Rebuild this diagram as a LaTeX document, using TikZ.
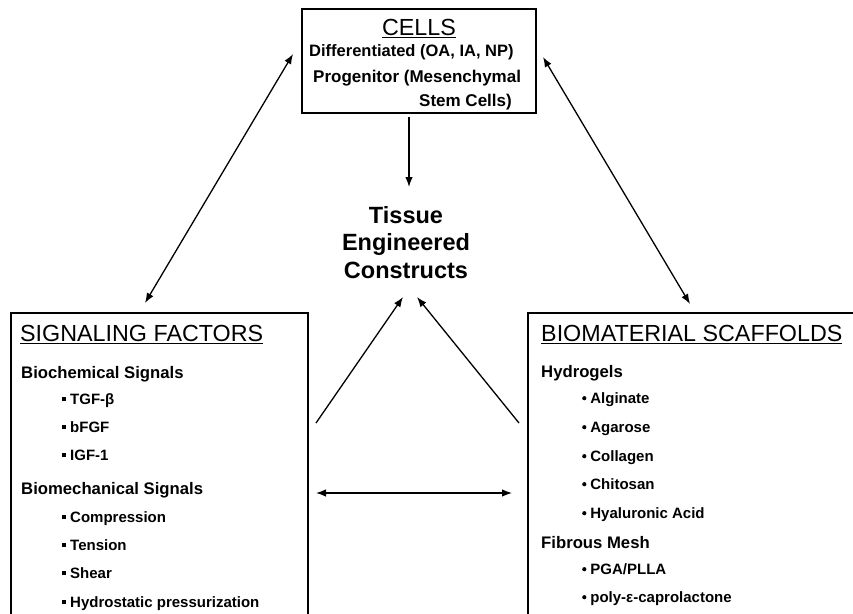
\documentclass[tikz,border=0pt]{standalone}
\usepackage{fontspec}
\setmainfont{Liberation Sans}
\usetikzlibrary{arrows.meta}
\tikzset{
  box/.style={draw=black, line width=1.6pt, inner sep=0pt, fill=none},
  txt/.style={inner sep=0pt, anchor=base west},
  txtc/.style={inner sep=0pt, anchor=base},
  tip/.tip={Latex[length=10pt,width=7.5pt]},
  conn/.style={line width=1.3pt, -tip},
  dconn/.style={line width=1.3pt, tip-tip},
  ttl/.style={font=\fontsize{23.3}{26}\selectfont},
  hd/.style={font=\bfseries\fontsize{16.7}{19}\selectfont},
  itm/.style={font=\bfseries\fontsize{15}{17}\selectfont},
}
\newcommand{\sqb}{\raisebox{3.2pt}{\rule{4pt}{4pt}}\hspace{4pt}}
\newcommand{\rdb}{\raisebox{3.2pt}{\tikz\fill (0,0) circle (2.1pt);}\hspace{4pt}}
\begin{document}
\begin{tikzpicture}[x=1pt,y=-1pt]
\useasboundingbox (0,0) rectangle (853,613);
\clip (0,0) rectangle (853,613);
\fill[white] (0,0) rectangle (853,613);
% boxes
\node[box, minimum width=234pt, minimum height=104pt, anchor=north west] (cells) at (301,8) {};
\node[box, minimum width=297pt, minimum height=340pt, anchor=north west] (sig) at (10,312) {};
\node[box, minimum width=360pt, minimum height=340pt, anchor=north west] (bio) at (527,312) {};
% cells text
\node[txtc, ttl] (cellsT) at (419,35.5) {\underline{CELLS}};
\node[txt, font=\bfseries\fontsize{16.5}{19}\selectfont] (c1) at (309,56) {Differentiated (OA, IA, NP)};
\node[txt, font=\bfseries\fontsize{17}{19}\selectfont] (c2) at (313,82) {Progenitor (Mesenchymal};
\node[txt, font=\bfseries\fontsize{17}{19}\selectfont, anchor=base east] (c3) at (512,106) {Stem Cells)};
% tissue
\node[inner sep=0pt, align=center, font=\bfseries\fontsize{23.5}{27.5}\selectfont, anchor=north] (tissue) at (406,206) {Tissue\\Engineered\\Constructs};
% signaling factors
\node[txt, ttl] (sT) at (20,341.5) {\underline{SIGNALING FACTORS}};
\node[txt, hd] (s1) at (21,378) {Biochemical Signals};
\node[txt, itm] (s2) at (62,404.5) {\sqb TGF-β};
\node[txt, itm] (s3) at (62,432.5) {\sqb bFGF};
\node[txt, itm] (s4) at (62,460.5) {\sqb IGF-1};
\node[txt, hd] (s5) at (21,494) {Biomechanical Signals};
\node[txt, itm] (s6) at (62,522.5) {\sqb Compression};
\node[txt, itm] (s7) at (62,550.5) {\sqb Tension};
\node[txt, itm] (s8) at (62,578.5) {\sqb Shear};
\node[txt, itm] (s9) at (62,607.5) {\sqb Hydrostatic pressurization};
% biomaterial scaffolds
\node[txt, ttl] (bT) at (541,341.5) {\underline{BIOMATERIAL SCAFFOLDS}};
\node[txt, hd] (b1) at (541,377) {Hydrogels};
\node[txt, itm] (b2) at (582,403.5) {\rdb Alginate};
\node[txt, itm] (b3) at (582,432.5) {\rdb Agarose};
\node[txt, itm] (b4) at (582,461.5) {\rdb Collagen};
\node[txt, itm] (b5) at (582,489.5) {\rdb Chitosan};
\node[txt, itm] (b6) at (582,518.5) {\rdb Hyaluronic Acid};
\node[txt, hd] (b7) at (541,548) {Fibrous Mesh};
\node[txt, itm] (b8) at (582,574.5) {\rdb PGA/PLLA};
\node[txt, itm] (b9) at (582,602.5) {\rdb poly-ε-caprolactone};
% connector end points
\coordinate (lA) at (293,54);
\coordinate (lB) at (145,303);
\coordinate (rA) at (543,57);
\coordinate (rB) at (690,304);
\coordinate (vA) at (409,117);
\coordinate (vB) at (409,187);
\coordinate (blA) at (316,423);
\coordinate (blB) at (403,297);
\coordinate (brA) at (519,423);
\coordinate (brB) at (417,297);
\coordinate (hA) at (316,493);
\coordinate (hB) at (512,493);
% connectors
\draw[dconn] (lB) -- (lA);
\draw[dconn] (rA) -- (rB);
\draw[conn] (vA) -- (vB);
\draw[conn] (blA) -- (blB);
\draw[conn] (brA) -- (brB);
\draw[dconn] (hA) -- (hB);
\end{tikzpicture}
\end{document}
